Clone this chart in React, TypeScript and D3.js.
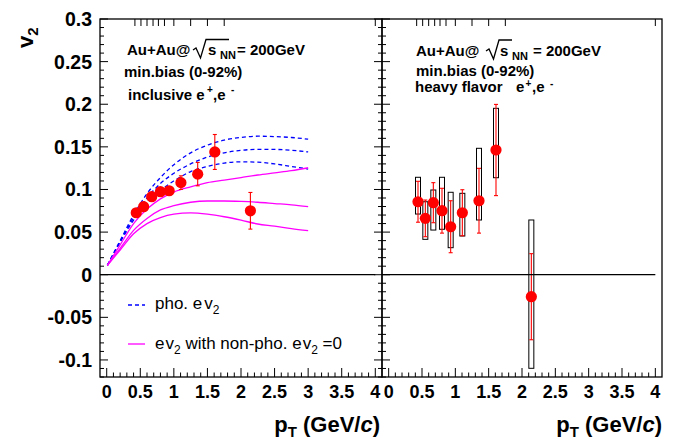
import React from "react";
import * as d3 from "d3";

// ---------- data ----------
const pt = [0.44, 0.55, 0.67, 0.8, 0.93, 1.105, 1.355, 1.61, 2.14];
const v2Inclusive = [0.0727, 0.0798, 0.0915, 0.0974, 0.0985, 0.108, 0.118, 0.144, 0.075];
const errInclusive = [0.003, 0.003, 0.003, 0.004, 0.005, 0.008, 0.0137, 0.0205, 0.0215];

const v2HF = [0.0856, 0.0661, 0.0845, 0.0751, 0.0563, 0.0727, 0.0868, 0.1463, -0.0258];
const errHF = [0.024, 0.0215, 0.0235, 0.0263, 0.0305, 0.027, 0.038, 0.0535, 0.0505];
const sysLowHF = [0.0712, 0.0415, 0.0524, 0.0533, 0.0317, 0.0454, 0.0642, 0.1138, -0.1098];
const sysHighHF = [0.1143, 0.0856, 0.0994, 0.1143, 0.0967, 0.0955, 0.1483, 0.1952, 0.0642];

const curvePt = [0.01, 0.2, 0.4, 0.6, 0.8, 1.0, 1.25, 1.5, 1.75, 2.0, 2.25, 2.5, 2.75, 3.0];
const phoHigh = [0.011, 0.04, 0.07, 0.095, 0.114, 0.129, 0.143, 0.152, 0.158, 0.161, 0.1625, 0.162, 0.161, 0.159];
const phoMid = [0.011, 0.039, 0.067, 0.09, 0.107, 0.119, 0.13, 0.138, 0.143, 0.146, 0.147, 0.147, 0.146, 0.144];
const phoLow = [0.011, 0.038, 0.064, 0.084, 0.099, 0.11, 0.121, 0.127, 0.131, 0.1325, 0.132, 0.13, 0.127, 0.124];
const nonPhoHigh = [0.011, 0.035, 0.06, 0.077, 0.089, 0.097, 0.103, 0.108, 0.111, 0.114, 0.117, 0.1195, 0.122, 0.1255];
const nonPhoMid = [0.011, 0.031, 0.052, 0.066, 0.076, 0.081, 0.085, 0.0865, 0.0865, 0.086, 0.085, 0.0835, 0.082, 0.0798];
const nonPhoLow = [0.011, 0.029, 0.048, 0.06, 0.067, 0.071, 0.0725, 0.071, 0.068, 0.064, 0.0595, 0.057, 0.054, 0.0516];

const yTickLabels = ["-0.1", "-0.05", "0", "0.05", "0.1", "0.15", "0.2", "0.25", "0.3"];
const xTickLabels = ["0", "0.5", "1", "1.5", "2", "2.5", "3", "3.5", "4"];
const topTicks = [0.42, 0.51, 0.6, 0.69, 0.77, 0.86, 1.0, 1.25, 1.5, 1.75, 4.0];

// ---------- layout ----------
const FONT = "'Liberation Sans', Arial, Helvetica, sans-serif";
const top = 19;
const bottom = 377;
const leftPanel = { x0: 100, x1: 382 };
const rightPanel = { x0: 382, x1: 662 };

const y = d3.scaleLinear().domain([-0.12, 0.3]).range([bottom, top]);
const xL = d3.scaleLinear().domain([-0.1, 4.1]).range([leftPanel.x0, leftPanel.x1]);
const xR = d3.scaleLinear().domain([-0.1, 4.1]).range([rightPanel.x0, rightPanel.x1]);

const minorY = d3.range(-12, 31).map((i) => i / 100);
const minorX = d3.range(0, 41).map((i) => i / 10);

function Axes({ x, panel, leftTicks, rightTicks }: any) {
  const els: any[] = [];
  minorY.forEach((v, i) => {
    const major = Math.round(v * 100) % 5 === 0;
    const len = major ? 8 : 4;
    if (leftTicks)
      els.push(<line key={"yl" + i} x1={panel.x0} x2={panel.x0 + len} y1={y(v)} y2={y(v)} stroke="#000" strokeWidth={1} />);
    if (rightTicks)
      els.push(<line key={"yr" + i} x1={panel.x1} x2={panel.x1 - len} y1={y(v)} y2={y(v)} stroke="#000" strokeWidth={1} />);
  });
  minorX.forEach((v, i) => {
    const major = i % 5 === 0;
    const len = major ? 9 : 4.5;
    els.push(<line key={"xb" + i} x1={x(v)} x2={x(v)} y1={bottom} y2={bottom - len} stroke="#000" strokeWidth={1} />);
  });
  topTicks.forEach((v, i) => {
    els.push(<line key={"xt" + i} x1={x(v)} x2={x(v)} y1={top} y2={top + 7} stroke="#000" strokeWidth={1} />);
  });
  xTickLabels.forEach((t, i) => {
    els.push(
      <text key={"xlab" + i} x={x(+t)} y={398} textAnchor="middle" fontSize={18} fontWeight="bold" fontFamily={FONT}>
        {t}
      </text>
    );
  });
  els.push(<line key="zero" x1={x(-0.1)} x2={x(4)} y1={y(0)} y2={y(0)} stroke="#000" strokeWidth={1.2} />);
  els.push(
    <rect key="frame" x={panel.x0} y={top} width={panel.x1 - panel.x0} height={bottom - top} fill="none" stroke="#000" strokeWidth={1.3} />
  );
  return <g>{els}</g>;
}

function Points({ x, vals, errs }: any) {
  return (
    <g>
      {pt.map((p, i) => (
        <g key={i}>
          <line x1={x(p)} x2={x(p)} y1={y(vals[i] - errs[i])} y2={y(vals[i] + errs[i])} stroke="#ff0000" strokeWidth={1.1} />
          <line x1={x(p) - 2} x2={x(p) + 2} y1={y(vals[i] - errs[i])} y2={y(vals[i] - errs[i])} stroke="#ff0000" strokeWidth={1.1} />
          <line x1={x(p) - 2} x2={x(p) + 2} y1={y(vals[i] + errs[i])} y2={y(vals[i] + errs[i])} stroke="#ff0000" strokeWidth={1.1} />
        </g>
      ))}
      {pt.map((p, i) => (
        <circle key={"c" + i} cx={x(p)} cy={y(vals[i])} r={5.6} fill="#ff0000" />
      ))}
    </g>
  );
}

function XTitle({ xr }: any) {
  return (
    <text x={xr} y={432} textAnchor="end" fontSize={22} fontWeight="bold" fontFamily={FONT}>
      p<tspan dy={5} fontSize={15}>T</tspan>
      <tspan dy={-5}> (GeV/</tspan>
      <tspan fontStyle="italic">c</tspan>
      <tspan>)</tspan>
    </text>
  );
}

export default function App() {
  const lineL = (vals: number[]) =>
    d3
      .line<number>()
      .x((_, i) => xL(curvePt[i]))
      .y((v) => y(v))
      .curve(d3.curveMonotoneX)(vals) as string;

  const phoCurves = [phoHigh, phoMid, phoLow];
  const nonPhoCurves = [nonPhoHigh, nonPhoMid, nonPhoLow];

  const boldText = { fontFamily: FONT, fontWeight: "bold" as const, fontSize: 15 };
  const normText = { fontFamily: FONT, fontSize: 17 };

  return (
    <svg width={686} height={445} style={{ display: "block", position: "absolute", left: 0, top: 0 }}>
      <rect width={686} height={445} fill="#fff" />

      {yTickLabels.map((t, i) => (
        <text key={i} x={92} y={y(+t)} dy="0.36em" textAnchor="end" fontSize={19.5} fontWeight="bold" fontFamily={FONT}>
          {t}
        </text>
      ))}
      <text transform="translate(33,48) rotate(-90)" fontSize={22} fontWeight="bold" fontFamily={FONT}>
        v<tspan dy={5} fontSize={15}>2</tspan>
      </text>

      {/* Left panel */}
      {phoCurves.map((c, i) => (
        <path key={"pho" + i} d={lineL(c)} fill="none" stroke="#0000ff" strokeWidth={1.3} strokeDasharray="4,3" />
      ))}
      {nonPhoCurves.map((c, i) => (
        <path key={"np" + i} d={lineL(c)} fill="none" stroke="#ff00ff" strokeWidth={1.3} />
      ))}
      <Points x={xL} vals={v2Inclusive} errs={errInclusive} />
      <Axes x={xL} panel={leftPanel} leftTicks={true} rightTicks={true} />

      {/* Right panel */}
      {pt.map((p, i) => (
        <rect
          key={"sys" + i}
          x={xR(p) - 2.5}
          y={y(sysHighHF[i])}
          width={5}
          height={y(sysLowHF[i]) - y(sysHighHF[i])}
          fill="none"
          stroke="#000"
          strokeWidth={1}
        />
      ))}
      <Points x={xR} vals={v2HF} errs={errHF} />
      <Axes x={xR} panel={rightPanel} leftTicks={true} rightTicks={false} />

      {/* Left panel text */}
      <text x={127} y={55} {...boldText}>Au+Au@</text>
      <path d="M193,50 L196,48 L200.5,58 L206,39.5 L229,39.5" fill="none" stroke="#000" strokeWidth={1.3} />
      <text x={208} y={55} {...boldText}>s</text>
      <text x={220} y={59} {...boldText} fontSize={11}>NN</text>
      <text x={237} y={55} {...boldText}>= 200GeV</text>
      <text x={124} y={77} {...boldText}>min.bias (0-92%)</text>
      <text x={128} y={100} {...boldText}>inclusive e</text>
      <text x={207} y={93} {...boldText} fontSize={10}>+</text>
      <text x={213} y={100} {...boldText}>,e</text>
      <text x={231} y={93} {...boldText} fontSize={10}>-</text>

      {/* Legend */}
      <line x1={128} x2={145} y1={305} y2={305} stroke="#0000ff" strokeWidth={1.3} strokeDasharray="4,3" />
      <text x={155} y={309} {...normText}>
        pho. e<tspan dx={2}>v</tspan>
        <tspan dy={5} fontSize={12}>2</tspan>
      </text>
      <line x1={128} x2={145} y1={344} y2={344} stroke="#ff00ff" strokeWidth={1.3} />
      <text x={155} y={349} {...normText}>
        e<tspan dx={1}>v</tspan>
        <tspan dy={5} fontSize={12}>2</tspan>
        <tspan dy={-5}> with non-pho. e</tspan>
        <tspan dx={1}>v</tspan>
        <tspan dy={5} fontSize={12}>2</tspan>
        <tspan dy={-5}> =0</tspan>
      </text>

      {/* Right panel text */}
      <text x={416} y={56} {...boldText}>Au+Au@</text>
      <path d="M486,51 L489,49 L493.5,59 L499,40 L512,40" fill="none" stroke="#000" strokeWidth={1.3} />
      <text x={500} y={56} {...boldText}>s</text>
      <text x={512} y={60} {...boldText} fontSize={11}>NN</text>
      <text x={533} y={56} {...boldText}>= 200GeV</text>
      <text x={416} y={76} {...boldText}>min.bias (0-92%)</text>
      <text x={415} y={92} {...boldText}>heavy flavor</text>
      <text x={516} y={92} {...boldText}>e</text>
      <text x={525.5} y={87} {...boldText} fontSize={10}>+</text>
      <text x={532} y={92} {...boldText}>,e</text>
      <text x={550} y={87} {...boldText} fontSize={10}>-</text>

      <XTitle xr={380} />
      <XTitle xr={662} />
    </svg>
  );
}
